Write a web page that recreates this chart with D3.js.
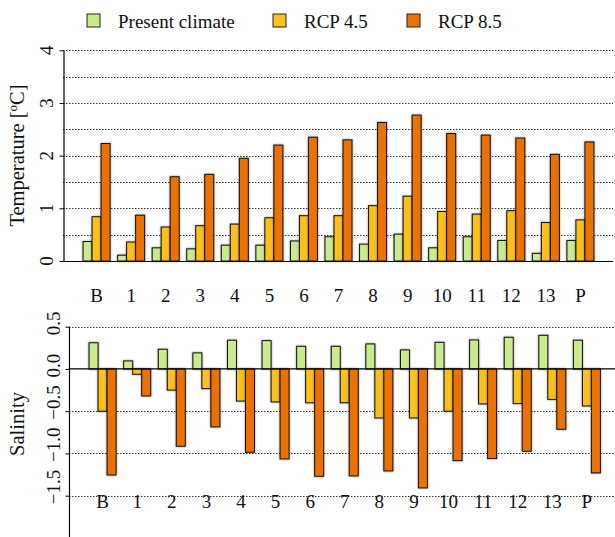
<!DOCTYPE html>
<html>
<head>
<meta charset="utf-8">
<script src="https://cdn.jsdelivr.net/npm/d3@7/dist/d3.min.js"></script>
<style>
  html, body { margin: 0; padding: 0; background: #fff; }
  svg { display: block; font-family: "Liberation Serif", "Times New Roman", serif; }
</style>
</head>
<body>
<svg id="chart" width="615" height="537"></svg>
<script>
// ---------------- data ----------------
const categories = ["B", "1", "2", "3", "4", "5", "6", "7", "8", "9", "10", "11", "12", "13", "P"];
const seriesNames = ["Present climate", "RCP 4.5", "RCP 8.5"];
const seriesColors = ["#CBEA8C", "#FCC01E", "#EB7100"];

const tempPresent = [0.37, 0.11, 0.25, 0.23, 0.30, 0.30, 0.38, 0.46, 0.32, 0.51, 0.25, 0.46, 0.39, 0.145, 0.39];
const tempRcp45   = [0.84, 0.36, 0.645, 0.67, 0.70, 0.82, 0.86, 0.86, 1.05, 1.23, 0.94, 0.89, 0.955, 0.73, 0.78];
const tempRcp85   = [2.23, 0.87, 1.60, 1.645, 1.95, 2.20, 2.35, 2.30, 2.63, 2.77, 2.42, 2.39, 2.335, 2.025, 2.26];

const salPresent = [0.31, 0.095, 0.233, 0.19, 0.34, 0.335, 0.268, 0.268, 0.296, 0.225, 0.315, 0.343, 0.375, 0.398, 0.34];
const salRcp45   = [-0.50, -0.063, -0.25, -0.233, -0.38, -0.39, -0.40, -0.40, -0.58, -0.58, -0.50, -0.414, -0.41, -0.36, -0.438];
const salRcp85   = [-1.255, -0.32, -0.915, -0.686, -0.986, -1.065, -1.27, -1.266, -1.207, -1.408, -1.085, -1.06, -0.974, -0.714, -1.23];

const tempTicks = [0, 1, 2, 3, 4];
const tempGrid  = [0.5, 1, 1.5, 2, 2.5, 3, 3.5, 4];
const salTicks  = [0.5, 0.0, -0.5, -1.0, -1.5];
const salGrid   = [0.5, -0.5, -1.0, -1.5];

// ---------------- setup ----------------
const svg = d3.select("#chart");
const FS = 19;

const defs = svg.append("defs");
const f = defs.append("filter").attr("id", "sh").attr("x", "-50%").attr("y", "-50%").attr("width", "200%").attr("height", "200%");
f.append("feDropShadow").attr("dx", 0).attr("dy", 0).attr("stdDeviation", 0.8)
  .attr("flood-color", "#000").attr("flood-opacity", 0.45);

const inner = d3.scaleBand().domain(seriesNames).range([-13.5, 13.5]).padding(0);

// ---------------- legend ----------------
const legendX = [87, 273, 407];
const lg = svg.append("g");
seriesNames.forEach((s, i) => {
  lg.append("rect").attr("x", legendX[i]).attr("y", 14).attr("width", 13).attr("height", 13)
    .attr("fill", seriesColors[i]).attr("stroke", "#222").attr("stroke-width", 1);
  lg.append("text").attr("x", legendX[i] + 31).attr("y", 27.5).attr("font-size", FS)
    .attr("fill", "#111").text(s);
});

// ---------------- top chart (temperature) ----------------
const xT = d3.scalePoint().domain(categories).range([62, 615]).padding(1);
const yT = d3.scaleLinear().domain([0, 4]).range([261, 50.3]);
const gT = svg.append("g");

gT.selectAll("line.grid").data(tempGrid).join("line")
  .attr("x1", 63).attr("x2", 613)
  .attr("y1", d => Math.round(yT(d)) + 0.5).attr("y2", d => Math.round(yT(d)) + 0.5)
  .attr("stroke", "#333").attr("stroke-width", 1).attr("stroke-dasharray", "1.5,1.5");

const tempData = [tempPresent, tempRcp45, tempRcp85];
tempData.forEach((vals, si) => {
  gT.append("g").selectAll("rect").data(vals).join("rect")
    .attr("x", (d, i) => xT(categories[i]) + inner(seriesNames[si]))
    .attr("width", inner.bandwidth())
    .attr("y", d => yT(d))
    .attr("height", d => yT(0) - yT(d))
    .attr("fill", seriesColors[si]).attr("stroke", "#111").attr("stroke-width", 1)
    .attr("filter", "url(#sh)");
});

// baseline
gT.append("line").attr("x1", 63).attr("x2", 613).attr("y1", 261.5).attr("y2", 261.5)
  .attr("stroke", "#000").attr("stroke-width", 1.2);

// y axis
const axT = d3.axisLeft(yT).tickValues(tempTicks).tickSize(4).tickSizeOuter(0).tickFormat("");
const gAxT = gT.append("g").attr("transform", "translate(63.5,0)").call(axT);
gAxT.select(".domain").attr("stroke", "#000").attr("stroke-width", 1.2);
gAxT.selectAll(".tick line").attr("stroke", "#000");
gT.selectAll("text.ytick").data(tempTicks).join("text")
  .attr("transform", d => `translate(53,${yT(d)}) rotate(-90)`)
  .attr("text-anchor", "middle").attr("font-size", FS).attr("fill", "#111")
  .text(d => d3.format("d")(d));

// category labels
gT.selectAll("text.cat").data(categories).join("text")
  .attr("x", d => xT(d)).attr("y", 302)
  .attr("text-anchor", "middle").attr("font-size", FS).attr("fill", "#111")
  .text(d => d);

// y title
const tt = gT.append("text").attr("transform", "translate(24,155.5) rotate(-90)")
  .attr("text-anchor", "middle").attr("font-size", 20.5).attr("fill", "#111");
tt.append("tspan").text("Temperature [");
tt.append("tspan").attr("font-size", 13).attr("dy", -7).text("o");
tt.append("tspan").attr("dy", 7).text("C]");

// ---------------- bottom chart (salinity) ----------------
const xB = d3.scalePoint().domain(categories).range([68, 621.5]).padding(1);
const yB = d3.scaleLinear().domain([-1.5, 0.5]).range([495.7, 326.7]);
const gB = svg.append("g");

gB.selectAll("line.grid").data(salGrid).join("line")
  .attr("x1", 69).attr("x2", 615)
  .attr("y1", d => Math.round(yB(d)) + 0.5).attr("y2", d => Math.round(yB(d)) + 0.5)
  .attr("stroke", "#333").attr("stroke-width", 1).attr("stroke-dasharray", "1.5,1.5");

const salData = [salPresent, salRcp45, salRcp85];
salData.forEach((vals, si) => {
  gB.append("g").selectAll("rect").data(vals).join("rect")
    .attr("x", (d, i) => xB(categories[i]) + inner(seriesNames[si]))
    .attr("width", inner.bandwidth())
    .attr("y", d => yB(Math.max(0, d)))
    .attr("height", d => Math.abs(yB(d) - yB(0)))
    .attr("fill", seriesColors[si]).attr("stroke", "#111").attr("stroke-width", 1)
    .attr("filter", "url(#sh)");
});

// zero line
gB.append("line").attr("x1", 69).attr("x2", 615).attr("y1", yB(0)).attr("y2", yB(0))
  .attr("stroke", "#000").attr("stroke-width", 1.2);

// y axis
const axB = d3.axisLeft(yB).tickValues(salTicks).tickSize(4).tickSizeOuter(0).tickFormat("");
const gAxB = gB.append("g").attr("transform", "translate(69.5,0)").call(axB);
gAxB.select(".domain").remove();
gAxB.selectAll(".tick line").attr("stroke", "#000");
gB.append("line").attr("x1", 69.5).attr("x2", 69.5).attr("y1", yB(0.5)).attr("y2", yB(-2.0))
  .attr("stroke", "#000").attr("stroke-width", 1.2);
gB.selectAll("text.ytick").data(salTicks).join("text")
  .attr("transform", d => `translate(59.5,${yB(d) + 8.5}) rotate(-90)`)
  .attr("text-anchor", "start").attr("font-size", FS).attr("fill", "#111")
  .text(d => d3.format(".1f")(d));

// category labels
gB.selectAll("text.cat").data(categories).join("text")
  .attr("x", d => xB(d)).attr("y", 508)
  .attr("text-anchor", "middle").attr("font-size", FS).attr("fill", "#111")
  .text(d => d);

// y title
gB.append("text").attr("transform", "translate(24,424) rotate(-90)")
  .attr("text-anchor", "middle").attr("font-size", 20.5).attr("fill", "#111")
  .text("Salinity");
</script>
</body>
</html>
